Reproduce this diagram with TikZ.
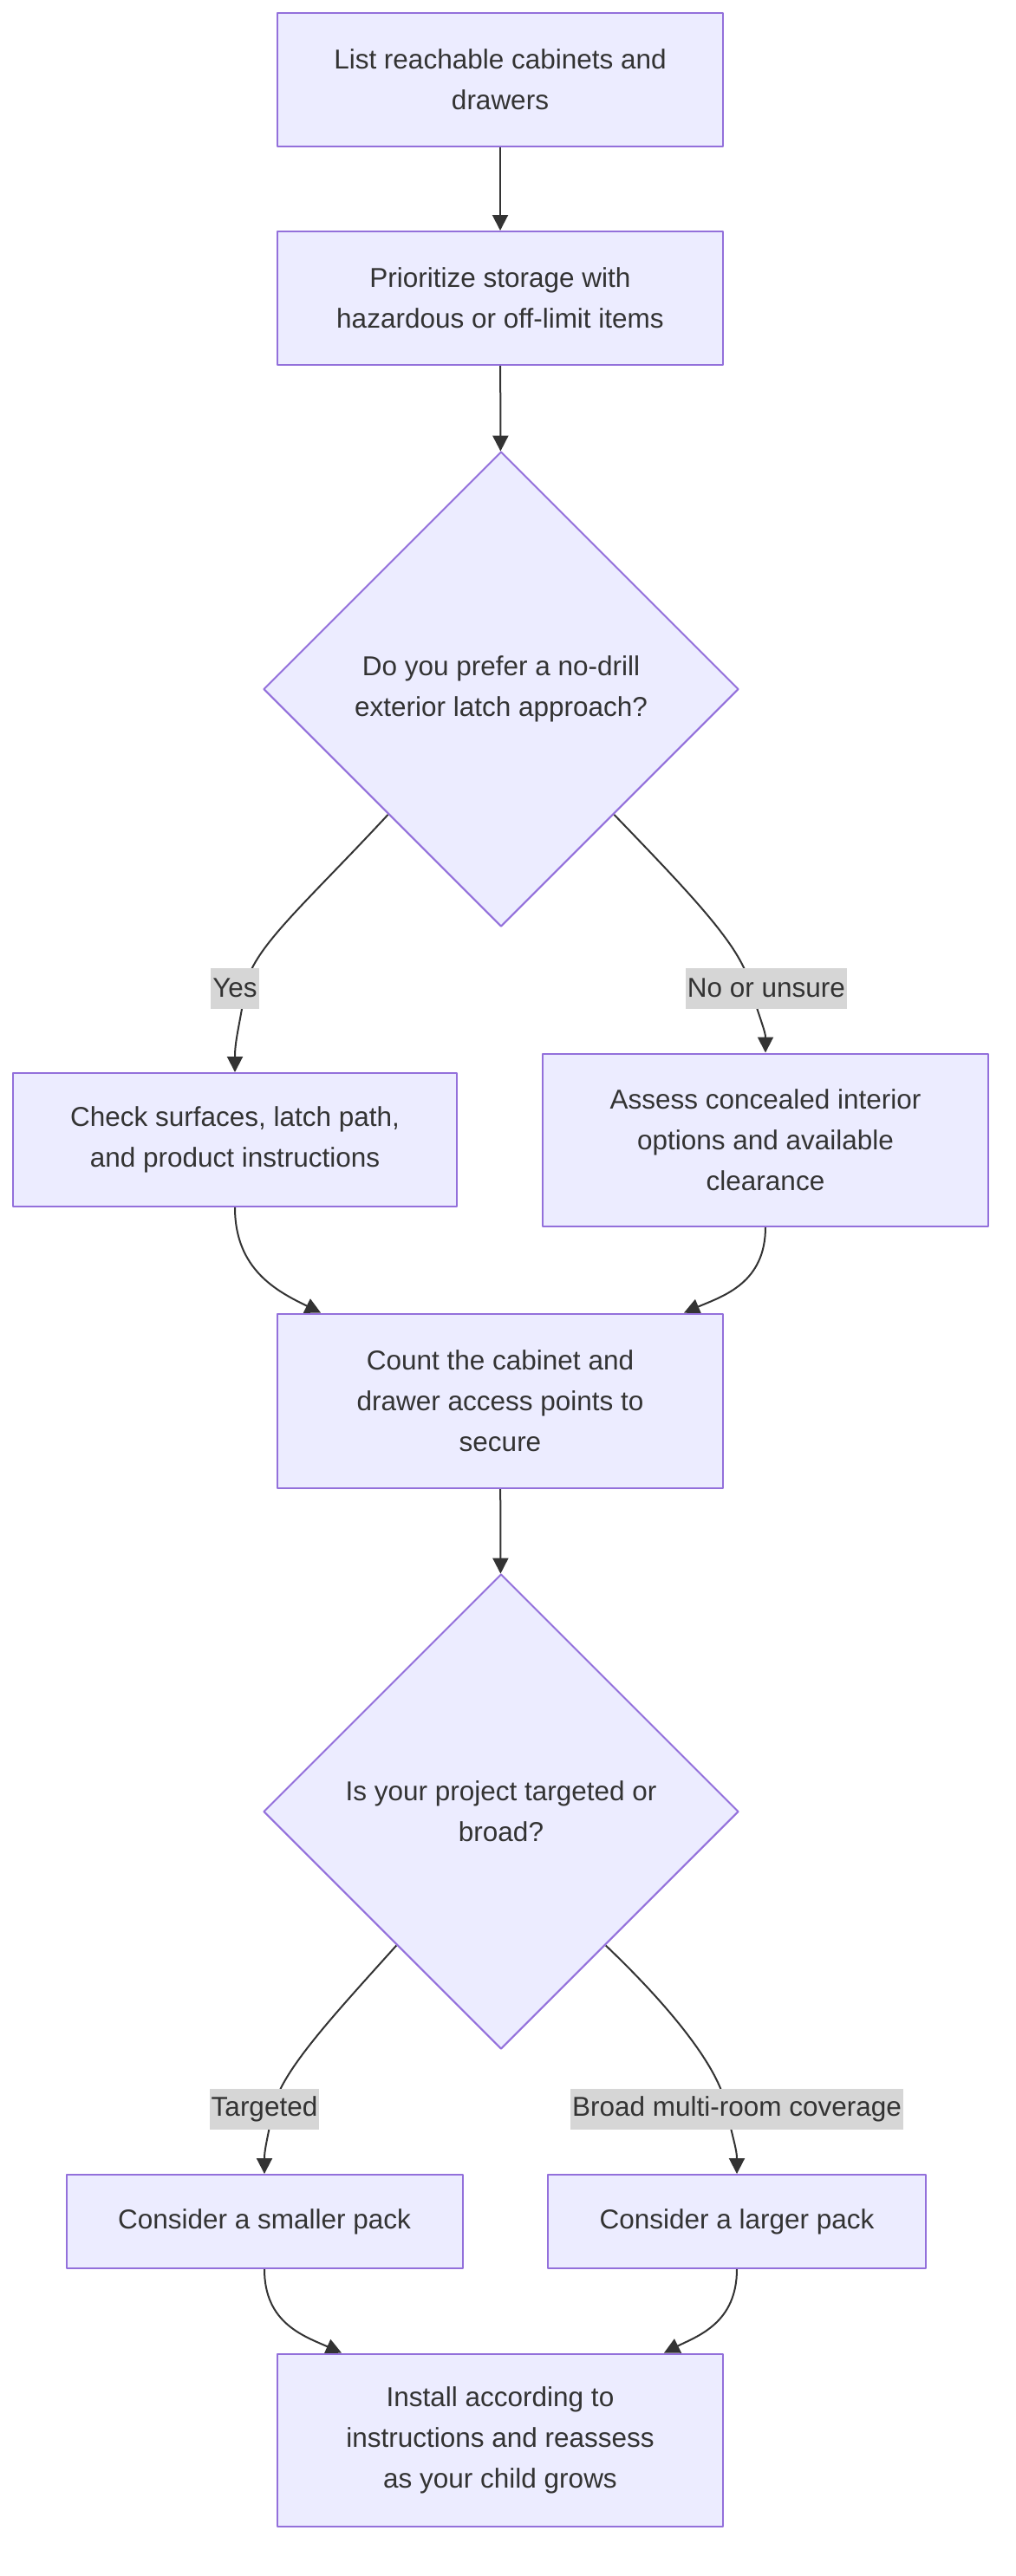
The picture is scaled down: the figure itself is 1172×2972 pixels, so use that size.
\documentclass[tikz,border=0pt]{standalone}
\usepackage{fontspec}
\setmainfont{Liberation Sans}
\usetikzlibrary{shapes.geometric,arrows.meta,backgrounds}
\definecolor{nodefill}{HTML}{ECECFF}
\definecolor{nodeline}{HTML}{9370DB}
\definecolor{ink}{HTML}{333333}
\definecolor{lblfill}{HTML}{D6D6D6}
\tikzset{
  box/.style={draw=nodeline, fill=nodefill, line width=2pt, align=center, inner sep=0pt},
  decision/.style={diamond, aspect=1, draw=nodeline, fill=nodefill, line width=2pt,
    align=center, inner sep=0pt, minimum width=548pt, minimum height=548pt},
  lbl/.style={fill=lblfill, inner xsep=2pt, inner ysep=0pt, minimum height=47pt},
  arr/.style={draw=ink, line width=2pt, -{Triangle[length=18pt,width=18pt]}},
}
\begin{document}
\begin{tikzpicture}[x=1pt, y=-1pt, font=\fontsize{31.5pt}{47pt}\selectfont, text=ink, line join=round]
  \useasboundingbox (0,0) rectangle (1172,2972);
  % boxes and questions
  \node[box, minimum width=514pt, minimum height=154pt] (list) at (577,92) {List reachable cabinets and\\drawers};
  \node[box, minimum width=514pt, minimum height=154pt] (prio) at (577,344) {Prioritize storage with\\hazardous or off-limit items};
  \node[decision] (q1) at (578,795) {Do you prefer a no-drill\\exterior latch approach?};
  \node[box, minimum width=512pt, minimum height=154pt] (check) at (271,1315) {Check surfaces, latch path,\\and product instructions};
  \node[box, minimum width=514pt, minimum height=199pt] (assess) at (883,1315) {Assess concealed interior\\options and available\\clearance};
  \node[box, minimum width=514pt, minimum height=201pt] (count) at (577,1616) {Count the cabinet and\\drawer access points to\\secure};
  \node[decision] (q2) at (578,2090) {Is your project targeted or\\broad?};
  \node[box, minimum width=457pt, minimum height=108pt] (small) at (305,2563) {Consider a smaller pack};
  \node[box, minimum width=436pt, minimum height=108pt] (large) at (850,2563) {Consider a larger pack};
  \node[box, minimum width=514pt, minimum height=199pt] (install) at (577,2815) {Install according to\\instructions and reassess\\as your child grows};
  % edge labels
  \node[lbl] (lyes) at (271,1140) {Yes};
  \node[lbl] (lno) at (884,1140) {No or unsure};
  \node[lbl] (ltarg) at (305,2433) {Targeted};
  \node[lbl] (lbroad) at (850,2433) {Broad multi-room coverage};
  % connectors
  \begin{scope}[on background layer]
    \fill[white] (0,0) rectangle (1172,2972);
    \draw[arr] (list) -- (prio);
    \draw[arr] (prio) -- (q1);
    \draw[arr] (q1.228) .. controls (350,1045) and (290,1095) .. ([xshift=12pt]lyes.center)
      .. controls (276,1185) and (271,1200) .. (check.north);
    \draw[arr] (q1.312) .. controls (800,1035) and (858,1095) .. ([xshift=-18pt]lno.center)
      .. controls (878,1180) and (883,1190) .. (assess.north);
    \draw[arr] (check.south) .. controls (271,1465) and (320,1490) .. ([xshift=-207pt]count.north);
    \draw[arr] (assess.south) .. controls (883,1480) and (835,1495) .. ([xshift=212pt]count.north);
    \draw[arr] (count) -- (q2);
    \draw[arr] (q2.232) .. controls (385,2325) and (324,2390) .. ([xshift=10pt]ltarg.center)
      .. controls (308,2470) and (305,2480) .. (small.north);
    \draw[arr] (q2.308) .. controls (778,2320) and (832,2390) .. ([xshift=-12pt]lbroad.center)
      .. controls (846,2470) and (850,2480) .. (large.north);
    \draw[arr] (small.south) .. controls (305,2680) and (350,2695) .. ([xshift=-183pt]install.north);
    \draw[arr] (large.south) .. controls (850,2680) and (805,2695) .. ([xshift=189pt]install.north);
  \end{scope}
\end{tikzpicture}
\end{document}
